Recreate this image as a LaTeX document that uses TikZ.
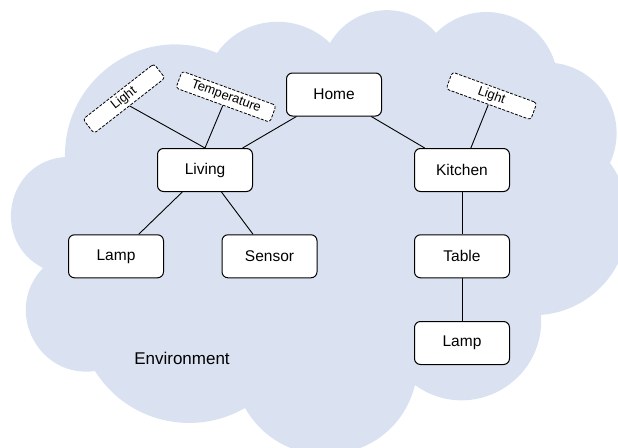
\documentclass[tikz,border=0pt]{standalone}
\usepackage{fontspec}
\setmainfont{Liberation Sans}

\definecolor{cloudblue}{RGB}{218,226,242}

\tikzset{
  box/.style={draw, line width=1pt, rounded corners=6pt, fill=white,
    minimum width=95pt, minimum height=43pt, inner sep=0pt,
    font=\fontsize{15.5}{18}\selectfont},
  tag/.style={draw, line width=0.8pt, dash pattern=on 3pt off 1.5pt,
    rounded corners=3pt, fill=white, minimum height=18pt, inner sep=0pt,
    font=\fontsize{13}{15}\selectfont},
  link/.style={line width=0.9pt}
}

\begin{document}
\begin{tikzpicture}[x=1pt,y=1pt]
\useasboundingbox (0,0) rectangle (618,-447);
% cloud
\fill[cloudblue] (65,-157)
  to[out=91,in=157,looseness=1.10] (217,-53)
  to[out=55,in=136,looseness=1.03] (330,-43)
  to[out=60,in=130,looseness=1.08] (436,-33)
  to[out=45,in=107,looseness=1.13] (555,-63)
  to[out=-7,in=65,looseness=1.07] (610,-163)
  to[out=-54,in=5,looseness=1.15] (541,-315)
  to[out=-86,in=-36,looseness=1.20] (415,-385)
  to[out=-104,in=-60,looseness=1.24] (245,-408)
  to[out=-150,in=-58,looseness=0.99] (95,-371)
  to[out=188,in=226,looseness=1.28] (43,-268)
  to[out=153,in=184,looseness=1.34] (65,-157) -- cycle;

\node[box] (home) at (334,-94.5) {Home};
\node[box] (living) at (205,-170) {Living};   \node[box] (kitchen) at (462,-170) {Kitchen};
\node[box] (lamp1) at (116,-256.3) {Lamp};   \node[box] (sensor) at (269.5,-256.3) {Sensor};
\node[box] (table) at (462,-256.3) {Table};
\node[box] (lamp2) at (462,-343) {Lamp};
\node[tag, minimum width=90pt, rotate=38] (light1) at (124,-98.6) {Light};
\node[tag, minimum width=100pt, rotate=-20] (temp) at (226,-96.7) {Temperature};
\node[tag, minimum width=90pt, rotate=-20] (light2) at (491.5,-95.9) {Light};
\node[font=\fontsize{17}{20}\selectfont] (env) at (182,-358) {Environment};

\draw[link] (home) to (living);
\draw[link] (home) to (kitchen);
\draw[link] (living) to (lamp1);
\draw[link] (living) to (sensor);
\draw[link] (kitchen) to (table);
\draw[link] (table) to (lamp2);
\draw[link] (light1.south) to (living.north);
\draw[link] (temp.south) to (living.north);
\draw[link] (light2.south) to (kitchen);
\end{tikzpicture}
\end{document}
